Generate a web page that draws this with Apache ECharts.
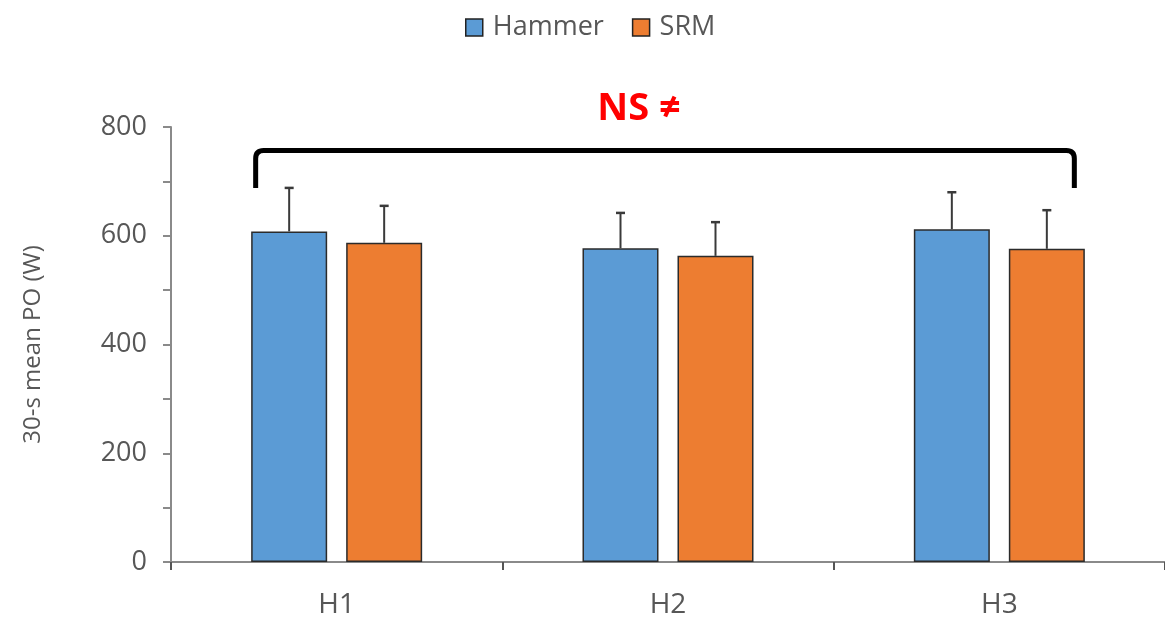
<!DOCTYPE html>
<html><head><meta charset="utf-8">
<script src="https://cdn.jsdelivr.net/npm/echarts@6/dist/echarts.min.js"></script>
<style>html,body{margin:0;padding:0;background:#fff}#c{width:1165px;height:620px}</style>
</head><body><div id="c"></div>
<script>
const categories = ['H1', 'H2', 'H3'];
const hammerMean = [608, 577, 612];
const hammerUpper = [688, 642, 680];
const srmMean = [587, 563, 576];
const srmUpper = [655, 625, 647];
const yTicks = [0, 200, 400, 600, 800];
const bracketY = 757, bracketEndY = 688;
const annotation = 'NS ≠';

const chart = echarts.init(document.getElementById('c'));
const font = '"Open Sans", "Noto Sans", sans-serif';
const axisGray = '#8a8a8a';
const textGray = '#575757';
const BW = 76, GAP = 19;

function errSeries(name, upper, means, seriesIndex) {
  return {
    type: 'custom', name: name + ' err', z: 5,
    data: upper.map((u, i) => [i, means[i], u]),
    renderItem: function (params, api) {
      const base = api.coord([api.value(0), api.value(1)]);
      const top = api.coord([api.value(0), api.value(2)]);
      const off = (seriesIndex === 0 ? -1 : 1) * (BW + GAP) / 2;
      const x = base[0] + off;
      return {
        type: 'group', children: [
          { type: 'line', shape: { x1: x, y1: base[1], x2: x, y2: top[1] }, style: { stroke: '#3a3a3a', lineWidth: 2 } },
          { type: 'line', shape: { x1: x - 4.5, y1: top[1], x2: x + 4.5, y2: top[1] }, style: { stroke: '#3a3a3a', lineWidth: 2.5 } }
        ]
      };
    },
    encode: { x: 0, y: [1, 2] }, silent: true, tooltip: { show: false }
  };
}

chart.setOption({
  animation: false,
  legend: {
    top: 9, left: 460, itemWidth: 17, itemHeight: 17, itemGap: 28, icon: 'rect',
    data: ['Hammer', 'SRM'],
    itemStyle: { borderColor: '#222', borderWidth: 1.5 },
    textStyle: { fontFamily: font, fontSize: 27, color: textGray, padding: [0, 0, 0, 5] }
  },
  grid: { left: 171, top: 127, bottom: 58, width: 997, containLabel: false },
  xAxis: {
    type: 'category', data: categories,
    axisLine: { lineStyle: { color: axisGray, width: 2 } },
    axisTick: { show: true, length: 8, alignWithLabel: false, lineStyle: { color: '#555', width: 2 } },
    axisLabel: { fontFamily: font, fontSize: 28, color: textGray, margin: 29 }
  },
  yAxis: {
    type: 'value', min: 0, max: 800, interval: 100,
    name: '30-s mean PO (W)', nameLocation: 'middle', nameGap: 126,
    nameTextStyle: { fontFamily: font, fontSize: 24, color: textGray },
    axisLine: { show: true, lineStyle: { color: axisGray, width: 2 } },
    axisTick: { show: true, length: 8, lineStyle: { color: axisGray, width: 2 } },
    axisLabel: { fontFamily: font, fontSize: 27, color: textGray, margin: 24,
      formatter: v => yTicks.includes(v) ? String(v) : '' },
    splitLine: { show: false }
  },
  series: [
    { type: 'bar', name: 'Hammer', data: hammerMean, barWidth: BW, barGap: '25%',
      itemStyle: { color: '#5b9bd5', borderColor: '#2b2b2b', borderWidth: 1.5 } },
    { type: 'bar', name: 'SRM', data: srmMean, barWidth: BW, barGap: '25%',
      itemStyle: { color: '#ed7d31', borderColor: '#2b2b2b', borderWidth: 1.5 } },
    errSeries('Hammer', hammerUpper, hammerMean, 0),
    errSeries('SRM', srmUpper, srmMean, 1),
    {
      type: 'custom', name: 'bracket', z: 6, silent: true,
      data: [[0, 2, bracketY, bracketEndY]],
      renderItem: function (params, api) {
        const a = api.coord([api.value(0), api.value(2)]);
        const b = api.coord([api.value(1), api.value(2)]);
        const yEnd = api.coord([api.value(0), api.value(3)])[1];
        const x1 = a[0] - 81, x2 = b[0] + 75, y = a[1], r = 8;
        return {
          type: 'group', children: [
            { type: 'path', shape: { pathData:
              `M${x1},${yEnd} L${x1},${y + r} Q${x1},${y} ${x1 + r},${y} L${x2 - r},${y} Q${x2},${y} ${x2},${y + r} L${x2},${yEnd}` },
              style: { stroke: '#000', lineWidth: 5, fill: null } },
            { type: 'text', style: { text: annotation, x: (x1 + x2) / 2 - 26, y: y - 41, align: 'center', verticalAlign: 'middle',
              fill: '#ff0000', font: 'bold 38px ' + font } }
          ]
        };
      },
      encode: { x: 0, y: 2 }
    }
  ]
});
</script></body></html>
